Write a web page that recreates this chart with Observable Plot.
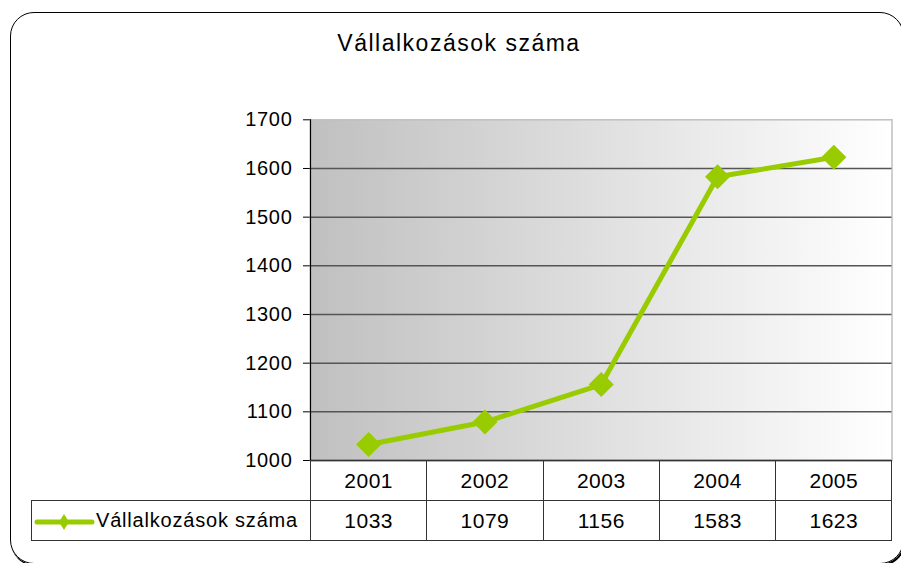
<!DOCTYPE html>
<html>
<head>
<meta charset="utf-8">
<script src="https://cdn.jsdelivr.net/npm/d3@7"></script>
<script src="https://cdn.jsdelivr.net/npm/@observablehq/plot@0.6"></script>
<style>
  html, body { margin: 0; padding: 0; background: #fff; }
  body { width: 901px; height: 563px; overflow: hidden; position: relative; font-family: "Liberation Sans", Arial, sans-serif; }
  #border { position: absolute; left: 10px; top: 12px; width: 892px; height: 550px; border: 1.5px solid #000; border-radius: 24px; box-shadow: 1px 2px 0 #000; }
  #title { position: absolute; left: 0; width: 918px; top: 30px; text-align: center; font-size: 23px; letter-spacing: 1.5px; color: #000; }
  #chart { position: absolute; left: 0; top: 0; }
  #tbl { position: absolute; left: 31px; top: 460px; border-collapse: collapse; table-layout: fixed; font-size: 21px; letter-spacing: 0.5px; color: #000; }
  #tbl td { border: 1px solid #333; height: 40px; padding: 0; text-align: center; box-sizing: border-box; }
  #tbl td.blank { border-top: none; border-left: none; border-bottom: 1px solid #333; }
  #tbl td.legend { text-align: left; font-size: 20px; letter-spacing: 0.8px; white-space: nowrap; }
  #tbl td.legend svg { vertical-align: middle; margin-left: 1px; margin-right: 1px; }
</style>
</head>
<body>
<div id="border"></div>
<div id="title"></div>
<div id="chart"></div>
<table id="tbl"></table>
<script>
const title = "Vállalkozások száma";
const seriesName = "Vállalkozások száma";
const years = [2001, 2002, 2003, 2004, 2005];
const values = [1033, 1079, 1156, 1583, 1623];
const yTicks = [1000, 1100, 1200, 1300, 1400, 1500, 1600, 1700];
const xDomain = [2000.5, 2005.5];
const lineColor = "#99cc00";

document.getElementById("title").textContent = title;

const data = years.map((year, i) => ({ year, value: values[i] }));

const chart = Plot.plot({
  width: 901,
  height: 563,
  marginLeft: 310,
  marginRight: 9.5,
  marginTop: 119.3,
  marginBottom: 103,
  style: { fontFamily: "'Liberation Sans', Arial, sans-serif", fontSize: "20px", background: "transparent", overflow: "visible", color: "#000" },
  x: { type: "linear", domain: xDomain, axis: null },
  y: { type: "linear", domain: [yTicks[0], yTicks[yTicks.length - 1]], ticks: yTicks, tickSize: 7, tickPadding: 11, tickFormat: d => String(d), label: null },
  marks: [
    Plot.frame({ fill: "url(#bgGrad)", stroke: "#c0c0c0", strokeWidth: 1.5 }),
    Plot.ruleY(yTicks.slice(1, -1), { stroke: "#555", strokeWidth: 1.5 }),
    Plot.ruleX([xDomain[0]], { stroke: "#000", strokeWidth: 1.2 }),
    Plot.ruleY([yTicks[0]], { stroke: "#000", strokeWidth: 1.5 }),
    Plot.line(data, { x: "year", y: "value", stroke: lineColor, strokeWidth: 5 }),
    Plot.dot(data, { x: "year", y: "value", symbol: "diamond2", r: 11.3, fill: lineColor, stroke: "none" })
  ]
});

const defs = d3.select(chart).insert("defs", ":first-child");
const g = defs.append("linearGradient").attr("id", "bgGrad").attr("x1", "0").attr("x2", "1").attr("y1", "0").attr("y2", "0");
g.append("stop").attr("offset", "0").attr("stop-color", "#c0c0c0");
g.append("stop").attr("offset", "1").attr("stop-color", "#ffffff");
d3.select(chart).selectAll("text").style("letter-spacing", "0.7px").attr("fill", "#000");
document.getElementById("chart").appendChild(chart);

// data table below the plot
const colW = (891.5 - 310) / years.length;
const tbl = d3.select("#tbl");
const colgroup = tbl.append("colgroup");
colgroup.append("col").style("width", (310 - 31) + "px");
years.forEach(() => colgroup.append("col").style("width", colW + "px"));
const r1 = tbl.append("tr");
r1.append("td").attr("class", "blank");
years.forEach(y => r1.append("td").text(y));
const r2 = tbl.append("tr");
const lg = r2.append("td").attr("class", "legend");
const sw = lg.append("svg").attr("width", 62).attr("height", 18);
sw.append("line").attr("x1", 4).attr("x2", 59).attr("y1", 9).attr("y2", 9).attr("stroke", lineColor).attr("stroke-width", 5).attr("stroke-linecap", "round");
sw.append("path").attr("d", "M31,1L36,9L31,17L26,9Z").attr("fill", lineColor);
lg.append("span").text(seriesName);
values.forEach(v => r2.append("td").text(v));
</script>
</body>
</html>
